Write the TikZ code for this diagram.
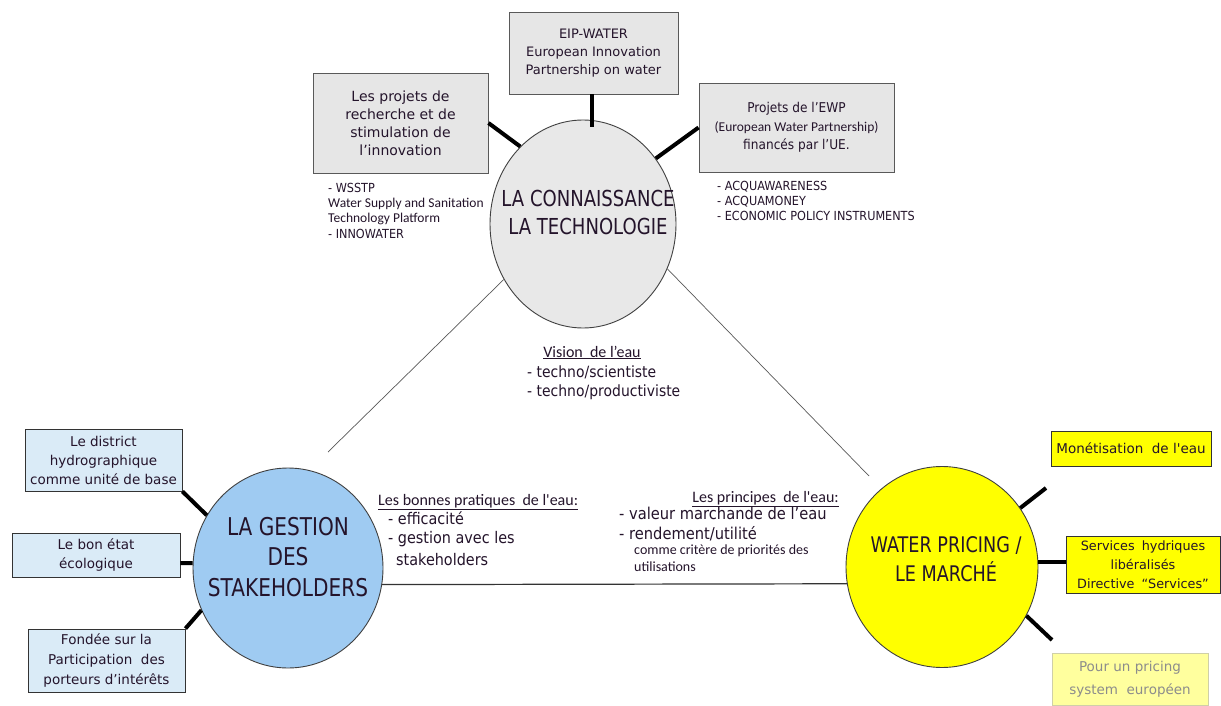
\documentclass[tikz,border=0pt]{standalone}
\usepackage{fontspec}
\usetikzlibrary{shapes.geometric}
% box text: a Tahoma-like sans
\newfontfamily\tahw{DejaVu Sans}
% body text, slightly narrowed
\newfontfamily\tah{DejaVu Sans}[FakeStretch=0.9]
% titles inside the three circles
\newfontfamily\tahc{DejaVu Sans}[FakeStretch=0.82]
% Calibri-like family for the small remarks and the underlined headings
\newfontfamily\calib{Carlito}
\newcommand\fs[2]{\fontsize{#1}{#2}\selectfont}

\definecolor{ink}{HTML}{24142B}
\definecolor{boxgray}{HTML}{E6E6E6}
\definecolor{ballgray}{HTML}{E8E8E8}
\definecolor{ballblue}{HTML}{9FCBF2}
\definecolor{paleblue}{HTML}{DAEBF7}
\definecolor{ballyellow}{HTML}{FFFF00}
\definecolor{paleyellow}{HTML}{FFFF9E}
\definecolor{fadeline}{HTML}{CFCFA8}
\definecolor{fadetext}{HTML}{8C8C8C}

\begin{document}
\begin{tikzpicture}[x=1pt,y=-1pt,
  ball/.style={ellipse, draw=black!75, line width=0.9pt, inner sep=0pt},
  balltext/.style={text=ink, align=center, inner sep=0pt},
  graybox/.style={draw=black!65, fill=boxgray, line width=0.9pt, inner sep=0pt,
                  align=center, text=ink},
  bluebox/.style={graybox, draw=black!80, fill=paleblue},
  yellowbox/.style={graybox, draw=black!80, fill=ballyellow},
  fadedbox/.style={graybox, draw=fadeline, fill=paleyellow, text=fadetext},
  spoke/.style={line width=4pt, draw=black},
  link/.style={line width=0.7pt, draw=black!65},
  txtline/.style={anchor=base west, inner sep=0pt, text=ink}
]
\useasboundingbox (0,0) rectangle (1221,706);
\fill[white] (0,0) rectangle (1221,706);

% ---------- the three poles ----------
\node[ball, fill=ballgray, minimum width=186, minimum height=208] (top) at (583,224) {};
\node[ball, fill=ballblue, minimum width=190, minimum height=200] (gest) at (288,568) {};
\node[ball, fill=ballyellow, minimum width=192, minimum height=201] (mkt) at (942,567) {};

\node[balltext, font=\tahc\fs{22}{28}] (toptxt) at (588,212) {LA CONNAISSANCE\\LA TECHNOLOGIE};
\node[balltext, font=\tahc\fs{24.5}{30.5}] (gesttxt) at (288,557) {LA GESTION\\DES\\STAKEHOLDERS};
\node[balltext, font=\tahc\fs{21.5}{29}] (mkttxt) at (946,559.5) {WATER PRICING /\\LE MARCH\'E};

% ---------- links between the poles ----------
\coordinate (lnkL) at (328,452);
\coordinate (lnkR) at (869,476);
\draw[link] (top.215) -- (lnkL);
\draw[link] (top.-28) -- (lnkR);
\draw[line width=1.2pt, draw=black!80] (gest.-10) -- (mkt.190);

% ---------- knowledge / technology ----------
\node[graybox, minimum width=175, minimum height=100, font=\tahw\fs{14}{18}] (b1) at (400.5,123)
  {Les projets de\\recherche et de\\stimulation de\\l’innovation};
\node[graybox, minimum width=169, minimum height=82, font=\tahw\fs{13}{18}] (b2) at (593.5,53)
  {EIP-WATER\\European Innovation\\Partnership on water};
\node[graybox, minimum width=195, minimum height=89, font=\tah\fs{13.5}{18.5}] (b3) at (796.5,127.5)
  {Projets de l’EWP\\{\calib\fs{13.5}{18.5}(European Water Partnership)}\\financés par l’UE.};

\draw[spoke] (b1.east) -- (top.129);
\draw[spoke, shorten >=-7pt] ([xshift=-1.5pt]b2.south) -- ([xshift=-1.5pt]b2.south |- top.88);
\draw[spoke] (b3.west) -- (top.42);

\node[txtline, font=\tah\fs{12.5}{15}] (ws1) at (328,192) {- WSSTP};
\node[txtline, font=\calib\fs{13.5}{15}] (ws2) at (328,207) {Water Supply and Sanitation};
\node[txtline, font=\calib\fs{13.5}{15}] (ws3) at (328,222) {Technology Platform};
\node[txtline, font=\tah\fs{12.5}{15}] (ws4) at (328,238) {- INNOWATER};

\node[txtline, font=\tah\fs{12.5}{15}] (ac1) at (717,190) {- ACQUAWARENESS};
\node[txtline, font=\tah\fs{12.5}{15}] (ac2) at (717,205) {- ACQUAMONEY};
\node[txtline, font=\tah\fs{12.5}{15}] (ac3) at (717,220) {- ECONOMIC POLICY INSTRUMENTS};

\node[txtline, anchor=base, font=\calib\fs{16}{19}] (vis) at (592,357) {\underline{Vision\ \ de l’eau}};
\node[txtline, font=\tah\fs{15.5}{19}] (vis1) at (527,377.5) {- techno/scientiste};
\node[txtline, font=\tah\fs{15.5}{19}] (vis2) at (527,396.5) {- techno/productiviste};

% ---------- stakeholder management ----------
\node[bluebox, minimum width=157, minimum height=62, font=\tahw\fs{13.5}{19}] (l1) at (103.5,460)
  {Le district\\hydrographique\\comme unité\ de base};
\node[bluebox, minimum width=168, minimum height=44, font=\tahw\fs{13.5}{19.5}] (l2) at (96,555)
  {Le bon état\\écologique};
\node[bluebox, minimum width=157, minimum height=63, font=\tahw\fs{13.5}{20}] (l3) at (106.5,660.5)
  {Fondée sur la\\Participation\ \ des\\porteurs\ d’intérêts};

\draw[spoke] (l1.south east) -- (gest.147);
\draw[spoke] ([yshift=-8pt]l2.east) -- (gest.177);
\draw[spoke] (l3.north east) -- (gest.206);

\node[txtline, font=\calib\fs{16}{19}] (bp) at (378,505) {\underline{Les bonnes pratiques\ \ de l'eau:}};
\node[txtline, font=\tah\fs{16}{19}] (bp1) at (388,524) {- efficacité};
\node[txtline, font=\tah\fs{16}{19}] (bp2) at (388,543) {- gestion avec les};
\node[txtline, font=\tah\fs{16}{19}] (bp3) at (396,565) {stakeholders};

% ---------- pricing / market ----------
\node[txtline, anchor=base east, font=\calib\fs{16}{19}] (pr) at (839,502) {\underline{Les principes\ \ de l'eau:}};
\node[txtline, font=\tah\fs{16.3}{19}] (pr1) at (619,519) {- valeur marchande de l’eau};
\node[txtline, font=\tah\fs{16.3}{19}] (pr2) at (619,539) {- rendement/utilité};
\node[txtline, font=\calib\fs{14}{17}] (pr3) at (634,554) {comme critère de priorités des};
\node[txtline, font=\calib\fs{14}{17}] (pr4) at (634,571) {utilisations};

\node[yellowbox, minimum width=160, minimum height=35, font=\tahw\fs{13.5}{19}] (r1) at (1131,448.5)
  {Monétisation\ \ de l'eau};
\node[yellowbox, minimum width=154, minimum height=57, font=\tahw\fs{12.8}{19}] (r2) at (1143,564.5)
  {Services\hspace{3pt} hydriques\\libéralisés\\Directive\hspace{3pt} “Services”};
\node[fadedbox, minimum width=156, minimum height=52, font=\tahw\fs{13.5}{23}] (r3) at (1130,679)
  {Pour un pricing\\system\ \ européen};

\coordinate (r1end) at (1046,488);
\coordinate (r3end) at (1052,640);
\draw[spoke] (mkt.37) -- (r1end);
\draw[spoke] (mkt.3) -- (mkt.3 -| r2.west);
\draw[spoke] (mkt.-30) -- (r3end);
\end{tikzpicture}
\end{document}
